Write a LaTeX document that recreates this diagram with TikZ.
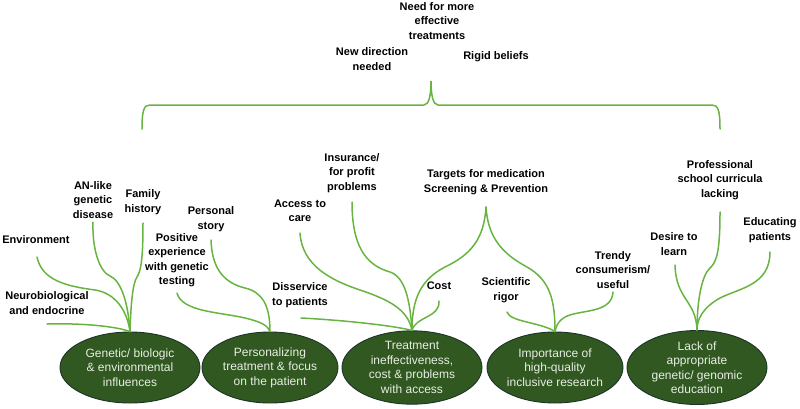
\documentclass[tikz,border=0pt]{standalone}
\usepackage{fontspec}
\setmainfont{Liberation Sans}
\definecolor{stemgreen}{RGB}{104,180,64}
\definecolor{podfill}{RGB}{48,88,32}
\definecolor{podedge}{RGB}{28,52,40}
\definecolor{podtext}{RGB}{232,238,228}
\tikzset{
  lbl/.style={align=center, font=\fontsize{11}{14.5}\selectfont\bfseries, inner sep=0pt, text=black},
  pod/.style={ellipse, draw=podedge, line width=0.9pt, fill=podfill, minimum width=140pt, minimum height=71pt,
              inner sep=0pt, align=center, text=podtext, font=\fontsize{12}{14.5}\selectfont},
  stem/.style={draw=stemgreen, line width=1.5pt, line cap=round},
}
\usetikzlibrary{shapes.geometric}
\begin{document}
\begin{tikzpicture}[x=1pt,y=-1pt]
\useasboundingbox (0,0) rectangle (800,408);

% ---- top group and brace ----
\node[lbl] (need) at (437,21) {Need for more\\effective\\treatments};
\node[lbl] (newdir) at (372,59) {New direction\\needed};
\node[lbl] (rigid) at (496,57) {Rigid beliefs};
\coordinate (tip) at (431,81);
\draw[stem] (142,129) .. controls (142,110) and (144,105) .. (150,105) -- (424,105)
  .. controls (429,105) and (431,95) .. (tip)
  .. controls (431,95) and (433,105) .. (438,105) -- (712,105)
  .. controls (718,105) and (720,110) .. (720,129);

% ---- five themes ----
\node[pod] (e1) at (130,367.5) {Genetic/ biologic\\\& environmental\\influences};
\node[pod, minimum width=136pt] (e2) at (270,367.5) {Personalizing\\treatment \& focus\\on the patient};
\node[pod] (e3) at (412,367.5) {Treatment\\ineffectiveness,\\cost \& problems\\with access};
\node[pod, minimum width=136pt] (e4) at (555,367.5) {Importance of\\high-quality\\inclusive research};
\node[pod] (e5) at (697,367.5) {Lack of\\appropriate\\genetic/ genomic\\education};

% ---- labels ----
\node[lbl] (an) at (93,200) {AN-like\\genetic\\disease};
\node[lbl] (fam) at (143,202) {Family\\history};
\node[lbl] (env) at (36,240) {Environment};
\node[lbl] (neuro) at (47,303) {Neurobiological\\and endocrine};
\node[lbl] (posexp) at (177,260) {Positive\\experience\\with genetic\\testing};
\node[lbl] (story) at (211,219) {Personal\\story};
\node[lbl] (access) at (300,211) {Access to\\care};
\node[lbl] (insur) at (352,173) {Insurance/\\for profit\\problems};
\node[lbl] (disserv) at (300,295) {Disservice\\to patients};
\node[lbl] (cost) at (439,286) {Cost};
\node[lbl] (targets) at (486,182) {Targets for medication\\Screening \& Prevention};
\node[lbl] (rigor) at (506,290) {Scientific\\rigor};
\node[lbl] (trendy) at (613,270) {Trendy\\consumerism/\\useful};
\node[lbl] (prof) at (720,180) {Professional\\school curricula\\lacking};
\node[lbl] (desire) at (674,244) {Desire to\\learn};
\node[lbl] (educ) at (770,230) {Educating\\patients};

% ---- stem starts ----
\coordinate (s-an) at (93,222);
\coordinate (s-fam) at (143,223);
\coordinate (s-env) at (37,257);
\coordinate (s-neuro) at (47,324);
\coordinate (s-posexp) at (177,293);
\coordinate (s-story) at (211,240);
\coordinate (s-access) at (300,233);
\coordinate (s-insur) at (352,202);
\coordinate (s-disserv) at (301,318);
\coordinate (s-cost) at (439,301);
\coordinate (s-targets) at (486,207);
\coordinate (s-rigor) at (507,312);
\coordinate (s-trendy) at (613,292);
\coordinate (s-prof) at (720,212);
\coordinate (s-desire) at (675,265);
\coordinate (s-educ) at (770,252);

% ---- stems: theme 1 ----
\draw[stem] (s-neuro) .. controls (80,323) and (115,326) .. (e1.north);
\draw[stem] (s-env) .. controls (42,280) and (65,286) .. (95,290)
  .. controls (115,293) and (127,310) .. (e1.north);
\draw[stem] (s-an) .. controls (92,250) and (100,272) .. (110,276)
  .. controls (120,280) and (128,300) .. (e1.north);
\draw[stem] (s-fam) .. controls (143,250) and (142,270) .. (137,277)
  .. controls (133,283) and (131,300) .. (e1.north);

% ---- stems: theme 2 ----
\draw[stem] (s-posexp) .. controls (182,312) and (220,312) .. (245,318)
  .. controls (262,322) and (268,326) .. (e2.north);
\draw[stem] (s-story) .. controls (212,270) and (225,283) .. (245,288)
  .. controls (262,292) and (270,305) .. (e2.north);

% ---- stems: theme 3 ----
\draw[stem] (s-disserv) .. controls (340,320) and (390,325) .. (e3.north);
\draw[stem] (s-access) .. controls (302,265) and (330,280) .. (360,290)
  .. controls (390,300) and (408,310) .. (e3.north);
\draw[stem] (s-insur) .. controls (352,245) and (365,265) .. (390,272)
  .. controls (405,277) and (410,300) .. (e3.north);
\draw[stem] (s-cost) .. controls (440,318) and (416,316) .. (e3.north);
\draw[stem] (s-targets) .. controls (484,240) and (470,255) .. (445,267)
  .. controls (420,280) and (412,300) .. (e3.north);

% ---- stems: theme 4 ----
\draw[stem] (s-targets) .. controls (488,240) and (505,255) .. (527,267)
  .. controls (550,280) and (555,300) .. (e4.north);
\draw[stem] (s-rigor) .. controls (510,322) and (540,322) .. (e4.north);
\draw[stem] (s-trendy) .. controls (612,312) and (585,310) .. (570,315)
  .. controls (560,318) and (556,325) .. (e4.north);

% ---- stems: theme 5 ----
\draw[stem] (s-desire) .. controls (676,300) and (696,300) .. (e5.north);
\draw[stem] (s-prof) .. controls (720,250) and (717,262) .. (710,268)
  .. controls (702,275) and (697,300) .. (e5.north);
\draw[stem] (s-educ) .. controls (770,285) and (740,288) .. (720,298)
  .. controls (702,308) and (697,320) .. (e5.north);
\end{tikzpicture}
\end{document}
